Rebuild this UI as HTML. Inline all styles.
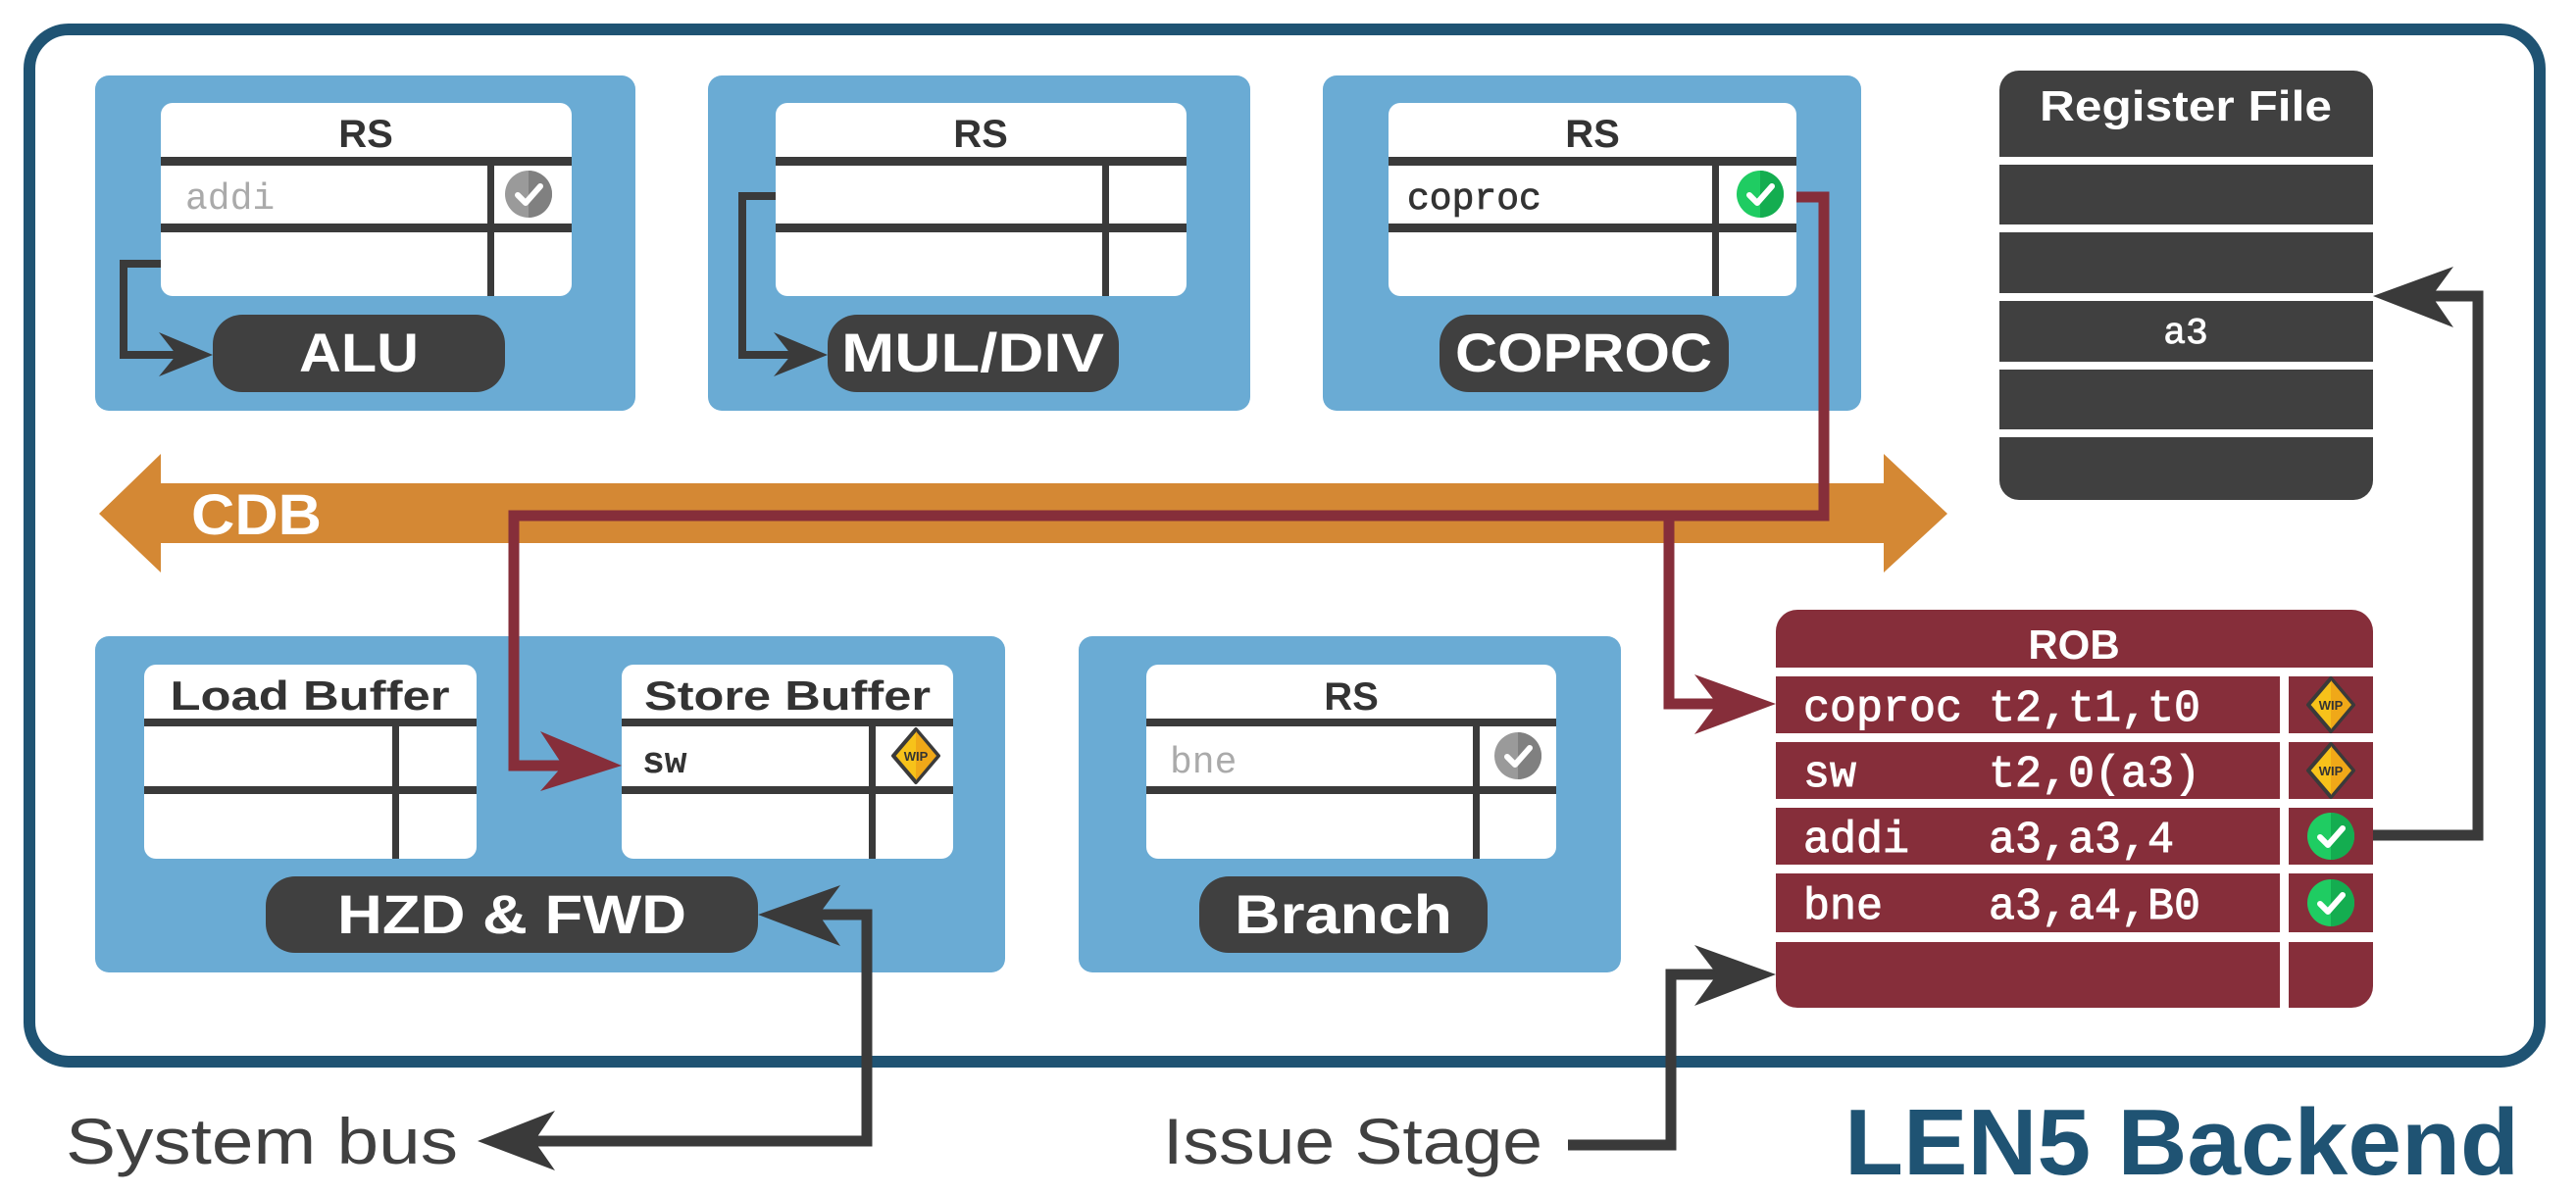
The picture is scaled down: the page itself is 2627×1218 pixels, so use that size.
<!DOCTYPE html>
<html><head><meta charset="utf-8"><style>
html,body{margin:0;padding:0;background:#fff;}
svg{display:block;}
.b{font-family:"Liberation Sans",sans-serif;font-weight:bold;}
.m{font-family:"Liberation Mono",monospace;}
</style></head><body>
<svg width="2627" height="1218" viewBox="0 0 2627 1218" xmlns="http://www.w3.org/2000/svg">
<defs>
<g id="chk"><circle r="24" fill="#1fcc62"/><path d="M0,-24 A24,24 0 0 1 0,24 Z" fill="#14ad50"/><path d="M-11,1 L-3,9 L12,-8" fill="none" stroke="#fff" stroke-width="6" stroke-linecap="round" stroke-linejoin="round"/></g>
<g id="gchk"><circle r="24" fill="#9a9a9a"/><path d="M0,-24 A24,24 0 0 1 0,24 Z" fill="#808080"/><path d="M-11,1 L-3,9 L12,-8" fill="none" stroke="#fff" stroke-width="6" stroke-linecap="round" stroke-linejoin="round"/></g>
<g id="wip"><path d="M0,-27 L23,0 L0,27 L-23,0 Z" fill="#f7c21a" stroke="#3a3a3a" stroke-width="4" stroke-linejoin="round"/><path d="M0,-25 L21,0 L0,25 Z" fill="#f0a818"/><text x="0" y="5" font-size="13" text-anchor="middle" class="b" fill="#333">WIP</text></g>
</defs>

<rect x="30" y="30" width="2560" height="1053" rx="40" fill="none" stroke="#1f5373" stroke-width="12"/>

<polygon points="101,524 164,463 164,493 1921,493 1921,463 1986,524 1921,584 1921,554 164,554 164,584" fill="#d48834"/>
<text x="195" y="545" class="b" font-size="58" fill="#fff" textLength="133" lengthAdjust="spacingAndGlyphs">CDB</text>

<!-- ALU block -->
<rect x="97" y="77" width="551" height="342" rx="14" fill="#6aabd4"/>
<rect x="164" y="105" width="419" height="197" rx="12" fill="#fff"/>
<text x="373" y="150" class="b" font-size="40" text-anchor="middle" fill="#333">RS</text>
<rect x="164" y="160" width="419" height="9" fill="#3a3a3a"/>
<rect x="164" y="228" width="419" height="9" fill="#3a3a3a"/>
<rect x="497" y="169" width="7" height="133" fill="#3a3a3a"/>
<text x="189" y="213" class="m" font-size="38" fill="#aaa">addi</text>
<use href="#gchk" x="539" y="198"/>
<rect x="217" y="321" width="298" height="79" rx="30" fill="#404040"/>
<text x="366" y="379" class="b" font-size="56" text-anchor="middle" fill="#fff" textLength="122" lengthAdjust="spacingAndGlyphs">ALU</text>
<polyline points="164,269 126,269 126,362 200,362" fill="none" stroke="#3a3a3a" stroke-width="8"/>
<polygon points="217,362 162,339 180,362 162,384" fill="#3a3a3a"/>

<!-- MUL/DIV block -->
<rect x="722" y="77" width="553" height="342" rx="14" fill="#6aabd4"/>
<rect x="791" y="105" width="419" height="197" rx="12" fill="#fff"/>
<text x="1000" y="150" class="b" font-size="40" text-anchor="middle" fill="#333">RS</text>
<rect x="791" y="160" width="419" height="9" fill="#3a3a3a"/>
<rect x="791" y="228" width="419" height="9" fill="#3a3a3a"/>
<rect x="1124" y="169" width="7" height="133" fill="#3a3a3a"/>
<rect x="844" y="321" width="297" height="79" rx="30" fill="#404040"/>
<text x="992" y="379" class="b" font-size="56" text-anchor="middle" fill="#fff" textLength="268" lengthAdjust="spacingAndGlyphs">MUL/DIV</text>
<polyline points="791,200 757,200 757,362 826,362" fill="none" stroke="#3a3a3a" stroke-width="8"/>
<polygon points="844,362 789,339 807,362 789,384" fill="#3a3a3a"/>

<!-- COPROC block -->
<rect x="1349" y="77" width="549" height="342" rx="14" fill="#6aabd4"/>
<rect x="1416" y="105" width="416" height="197" rx="12" fill="#fff"/>
<text x="1624" y="150" class="b" font-size="40" text-anchor="middle" fill="#333">RS</text>
<rect x="1416" y="160" width="416" height="9" fill="#3a3a3a"/>
<rect x="1416" y="228" width="416" height="9" fill="#3a3a3a"/>
<rect x="1746" y="169" width="7" height="133" fill="#3a3a3a"/>
<text x="1435" y="213" class="m" font-size="38" fill="#333" stroke="#333" stroke-width="0.8">coproc</text>
<use href="#chk" x="1795" y="198"/>
<rect x="1468" y="321" width="295" height="79" rx="30" fill="#404040"/>
<text x="1615" y="379" class="b" font-size="56" text-anchor="middle" fill="#fff" textLength="262" lengthAdjust="spacingAndGlyphs">COPROC</text>

<!-- Register file -->
<rect x="2039" y="72" width="381" height="438" rx="20" fill="#404040"/>
<text x="2229" y="123" class="b" font-size="44" text-anchor="middle" fill="#fff" textLength="298" lengthAdjust="spacingAndGlyphs">Register File</text>
<rect x="2039" y="160" width="381" height="8" fill="#fff"/>
<rect x="2039" y="229" width="381" height="8" fill="#fff"/>
<rect x="2039" y="299" width="381" height="8" fill="#fff"/>
<rect x="2039" y="369" width="381" height="8" fill="#fff"/>
<rect x="2039" y="438" width="381" height="8" fill="#fff"/>
<text x="2229" y="350" class="m" font-size="38" text-anchor="middle" fill="#fff" stroke="#fff" stroke-width="0.8">a3</text>

<!-- LSU block -->
<rect x="97" y="649" width="928" height="343" rx="14" fill="#6aabd4"/>
<rect x="147" y="678" width="339" height="198" rx="12" fill="#fff"/>
<text x="316" y="724" class="b" font-size="42" text-anchor="middle" fill="#333" textLength="285" lengthAdjust="spacingAndGlyphs">Load Buffer</text>
<rect x="147" y="733" width="339" height="8" fill="#3a3a3a"/>
<rect x="147" y="802" width="339" height="8" fill="#3a3a3a"/>
<rect x="400" y="741" width="7" height="135" fill="#3a3a3a"/>
<rect x="634" y="678" width="338" height="198" rx="12" fill="#fff"/>
<text x="803" y="724" class="b" font-size="42" text-anchor="middle" fill="#333" textLength="292" lengthAdjust="spacingAndGlyphs">Store Buffer</text>
<rect x="634" y="733" width="338" height="8" fill="#3a3a3a"/>
<rect x="634" y="802" width="338" height="8" fill="#3a3a3a"/>
<rect x="886" y="741" width="7" height="135" fill="#3a3a3a"/>
<text x="655" y="788" class="m" font-size="38" font-weight="bold" fill="#333">sw</text>
<use href="#wip" x="934" y="771"/>
<rect x="271" y="894" width="502" height="78" rx="30" fill="#404040"/>
<text x="522" y="952" class="b" font-size="56" text-anchor="middle" fill="#fff" textLength="356" lengthAdjust="spacingAndGlyphs">HZD &amp; FWD</text>

<!-- Branch block -->
<rect x="1100" y="649" width="553" height="343" rx="14" fill="#6aabd4"/>
<rect x="1169" y="678" width="418" height="198" rx="12" fill="#fff"/>
<text x="1378" y="724" class="b" font-size="40" text-anchor="middle" fill="#333">RS</text>
<rect x="1169" y="733" width="418" height="8" fill="#3a3a3a"/>
<rect x="1169" y="802" width="418" height="8" fill="#3a3a3a"/>
<rect x="1502" y="741" width="7" height="135" fill="#3a3a3a"/>
<text x="1193" y="788" class="m" font-size="38" fill="#aaa">bne</text>
<use href="#gchk" x="1548" y="771"/>
<rect x="1223" y="894" width="294" height="78" rx="30" fill="#404040"/>
<text x="1370" y="952" class="b" font-size="56" text-anchor="middle" fill="#fff" textLength="222" lengthAdjust="spacingAndGlyphs">Branch</text>

<!-- ROB -->
<rect x="1811" y="622" width="609" height="406" rx="22" fill="#862e3a"/>
<text x="2115" y="672" class="b" font-size="42" text-anchor="middle" fill="#fff">ROB</text>
<rect x="1811" y="681" width="609" height="9" fill="#fff"/>
<rect x="1811" y="748" width="609" height="9" fill="#fff"/>
<rect x="1811" y="815" width="609" height="9" fill="#fff"/>
<rect x="1811" y="882" width="609" height="9" fill="#fff"/>
<rect x="1811" y="951" width="609" height="10" fill="#fff"/>
<rect x="2325" y="690" width="9" height="338" fill="#fff"/>
<g class="m" font-size="45" fill="#fff" stroke="#fff" stroke-width="1">
<text x="1839" y="735" xml:space="preserve">coproc t2,t1,t0</text>
<text x="1839" y="802" xml:space="preserve">sw     t2,0(a3)</text>
<text x="1839" y="869" xml:space="preserve">addi   a3,a3,4</text>
<text x="1839" y="937" xml:space="preserve">bne    a3,a4,B0</text>
</g>
<use href="#wip" x="2377" y="719"/>
<use href="#wip" x="2377" y="786"/>
<use href="#chk" x="2377" y="853"/>
<use href="#chk" x="2377" y="921"/>

<g fill="none" stroke="#862e3a" stroke-width="11">
<polyline points="1832,201 1860,201 1860,526 524,526 524,781 600,781"/>
<polyline points="1702,526 1702,718 1780,718"/>
</g>
<polygon points="634,781 551,746 574,781 551,807" fill="#862e3a"/>
<polygon points="1811,718 1728,688 1751,718 1728,749" fill="#862e3a"/>

<g fill="none" stroke="#3a3a3a" stroke-width="11">
<polyline points="2420,852 2527,852 2527,302 2450,302"/>
<polyline points="810,933 884,933 884,1164 520,1164"/>
<polyline points="1599,1168 1704,1168 1704,994 1780,994"/>
</g>
<polygon points="2420,302 2502,272 2480,302 2502,334" fill="#3a3a3a"/>
<polygon points="773,933 857,903 835,933 857,965" fill="#3a3a3a"/>
<polygon points="487,1164 566,1133 545,1164 566,1194" fill="#3a3a3a"/>
<polygon points="1811,994 1728,964 1751,994 1728,1026" fill="#3a3a3a"/>

<text x="67" y="1187" font-family="Liberation Sans, sans-serif" font-size="66" fill="#404040" textLength="400" lengthAdjust="spacingAndGlyphs">System bus</text>
<text x="1186" y="1187" font-family="Liberation Sans, sans-serif" font-size="66" fill="#404040" textLength="387" lengthAdjust="spacingAndGlyphs">Issue Stage</text>
<text x="1881" y="1198" class="b" font-size="96" fill="#1f5373" textLength="688" lengthAdjust="spacingAndGlyphs">LEN5 Backend</text>
</svg>
</body></html>
